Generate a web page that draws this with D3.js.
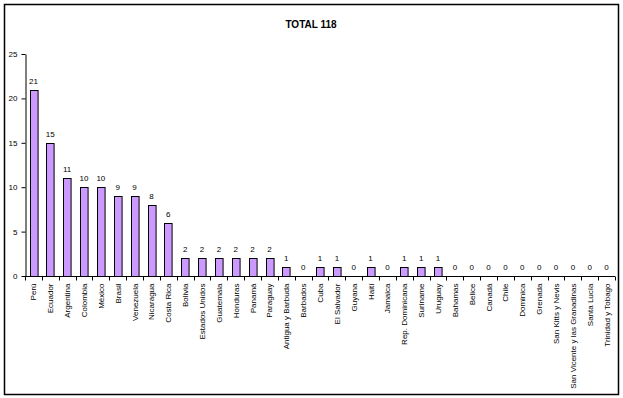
<!DOCTYPE html>
<html>
<head>
<meta charset="utf-8">
<script src="https://cdn.jsdelivr.net/npm/d3@7"></script>
<style>
  body { margin: 0; background: #fff; }
  text { font-family: Arial, "Liberation Sans", sans-serif; fill: #000; }
</style>
</head>
<body>
<div id="chart"></div>
<script>
const countries = ['Perú', 'Ecuador', 'Argentina', 'Colombia', 'México', 'Brasil', 'Venezuela',
  'Nicaragua', 'Costa Rica', 'Bolivia', 'Estados Unidos', 'Guatemala', 'Honduras', 'Panamá',
  'Paraguay', 'Antigua y Barbuda', 'Barbados', 'Cuba', 'El Salvador', 'Guyana', 'Haití',
  'Jamaica', 'Rep. Dominicana', 'Suriname', 'Uruguay', 'Bahamas', 'Belice', 'Canadá', 'Chile',
  'Dominica', 'Grenada', 'San Kitts y Nevis', 'San Vicente y las Granadinas', 'Santa Lucía',
  'Trinidad y Tobago'];
const counts = [21, 15, 11, 10, 10, 9, 9, 8, 6, 2, 2, 2, 2, 2, 2, 1, 0, 1, 1, 0, 1, 0, 1, 1, 1,
  0, 0, 0, 0, 0, 0, 0, 0, 0, 0];
const yTicks = [0, 5, 10, 15, 20, 25];
const title = 'TOTAL 118';

const W = 623, H = 398;
const m = { left: 25, right: 8, top: 54, bottom: 122 };

const svg = d3.select('#chart').append('svg')
  .attr('width', W)
  .attr('height', H);

// chart frame
svg.append('rect')
  .attr('x', 4.5).attr('y', 4.5)
  .attr('width', 614).attr('height', 390)
  .attr('fill', '#fff')
  .attr('stroke', '#000')
  .attr('stroke-width', 1.5);

svg.append('text')
  .attr('x', 311).attr('y', 28)
  .attr('text-anchor', 'middle')
  .attr('font-size', 10)
  .attr('font-weight', 'bold')
  .text(title);

const data = countries.map((c, i) => ({ name: c, value: counts[i] }));

const x = d3.scaleBand()
  .domain(countries)
  .range([m.left, W - m.right])
  .paddingInner(0.55)
  .paddingOuter(0.275);

const y = d3.scaleLinear()
  .domain([0, 25])
  .range([H - m.bottom, m.top]);

const g = svg.append('g');

g.selectAll('.bar')
  .data(data)
  .enter().append('rect')
  .attr('class', 'bar')
  .attr('x', d => Math.round(x(d.name)) + 0.5)
  .attr('y', d => Math.round(y(d.value)) + 0.5)
  .attr('width', x.bandwidth())
  .attr('height', d => y(0) - Math.round(y(d.value)))
  .attr('fill', '#cc99ff')
  .attr('stroke', '#000')
  .attr('stroke-width', 1)
  .filter(d => d.value === 0).remove();

g.selectAll('.val')
  .data(data)
  .enter().append('text')
  .attr('class', 'val')
  .attr('x', d => x(d.name) + x.bandwidth() / 2)
  .attr('y', d => y(d.value) - 6)
  .attr('text-anchor', 'middle')
  .attr('font-size', 8)
  .text(d => d.value);

// y axis
const yAxis = svg.append('g')
  .attr('transform', `translate(${m.left + 0.5},0)`)
  .call(d3.axisLeft(y).tickValues(yTicks).tickSize(4).tickSizeOuter(0).tickPadding(4));
yAxis.selectAll('text').attr('font-size', 8).attr('font-family', 'Arial, "Liberation Sans", sans-serif');

// x axis, ticks between categories
const step = x.step();
const xAxis = svg.append('g')
  .attr('transform', `translate(0,${y(0) + 0.5})`);
xAxis.append('line')
  .attr('x1', m.left).attr('x2', W - m.right)
  .attr('stroke', '#000');
xAxis.selectAll('.tick')
  .data(d3.range(countries.length + 1))
  .enter().append('line')
  .attr('x1', i => Math.round(m.left + i * step) + 0.5)
  .attr('x2', i => Math.round(m.left + i * step) + 0.5)
  .attr('y1', 0).attr('y2', 4)
  .attr('stroke', '#000');
xAxis.selectAll('.lbl')
  .data(countries)
  .enter().append('text')
  .attr('transform', d => `translate(${x(d) + x.bandwidth() / 2 + 3},7) rotate(-90)`)
  .attr('text-anchor', 'end')
  .attr('font-size', 8)
  .text(d => d);
</script>
</body>
</html>
